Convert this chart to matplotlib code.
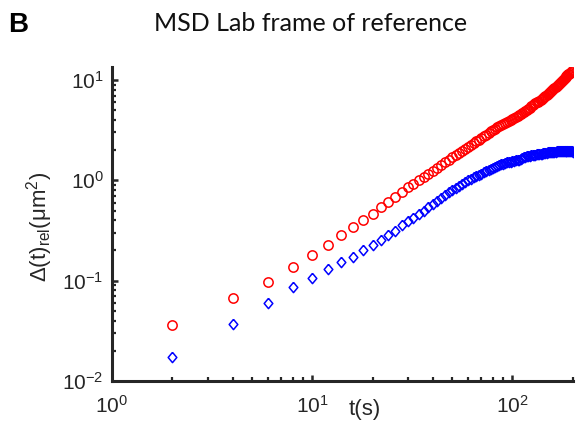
import numpy as np
import matplotlib
matplotlib.use('Agg')
import matplotlib.pyplot as plt

plt.rcParams['font.family'] = ['Liberation Sans', 'DejaVu Sans']
plt.rcParams['mathtext.fontset'] = 'custom'
plt.rcParams['mathtext.rm'] = 'Liberation Sans'
plt.rcParams['mathtext.it'] = 'Liberation Sans:italic'
plt.rcParams['mathtext.bf'] = 'Liberation Sans:bold'

# data
t = list(range(2, 201, 2))
msd_red = [0.036, 0.067, 0.097, 0.137, 0.180, 0.227, 0.283, 0.340, 0.405, 0.463,
           0.537, 0.610, 0.690, 0.770, 0.850, 0.930, 1.01, 1.09, 1.17, 1.25,
           1.33, 1.42, 1.51, 1.61, 1.70, 1.79, 1.88, 1.97, 2.06, 2.16,
           2.25, 2.35, 2.45, 2.55, 2.65, 2.75, 2.86, 2.97, 3.07, 3.17,
           3.27, 3.37, 3.46, 3.55, 3.64, 3.72, 3.80, 3.88, 3.98, 4.08,
           4.18, 4.28, 4.39, 4.50, 4.61, 4.72, 4.83, 4.95, 5.07, 5.19,
           5.32, 5.45, 5.58, 5.71, 5.84, 5.97, 6.10, 6.23, 6.37, 6.51,
           6.66, 6.81, 6.96, 7.12, 7.28, 7.44, 7.61, 7.78, 7.95, 8.12,
           8.30, 8.49, 8.68, 8.88, 9.08, 9.29, 9.50, 9.72, 9.94, 10.17,
           10.40, 10.64, 10.88, 11.12, 11.36, 11.60, 11.84, 12.08, 12.30, 12.50]
msd_blue = [0.0173, 0.0372, 0.0605, 0.0859, 0.107, 0.131, 0.152, 0.174, 0.201, 0.225,
            0.254, 0.283, 0.316, 0.355, 0.390, 0.425, 0.460, 0.500, 0.540, 0.580,
            0.625, 0.670, 0.720, 0.765, 0.800, 0.840, 0.880, 0.920, 0.960, 1.00,
            1.04, 1.08, 1.11, 1.14, 1.17, 1.20, 1.23, 1.26, 1.29, 1.32,
            1.35, 1.38, 1.41, 1.44, 1.47, 1.49, 1.51, 1.53, 1.54, 1.56,
            1.57, 1.58, 1.59, 1.61, 1.63, 1.66, 1.69, 1.72, 1.74, 1.75,
            1.76, 1.77, 1.78, 1.79, 1.80, 1.81, 1.82, 1.83, 1.84, 1.85,
            1.86, 1.87, 1.88, 1.89, 1.90, 1.91, 1.91, 1.92, 1.92, 1.93,
            1.93, 1.93, 1.94, 1.94, 1.94, 1.95, 1.95, 1.95, 1.95, 1.96,
            1.96, 1.96, 1.96, 1.96, 1.96, 1.96, 1.95, 1.95, 1.94, 1.93]

fig = plt.figure(figsize=(5.76, 4.21), dpi=100)
ax = fig.add_axes([0.1944, 0.095, 0.800, 0.746])

diamond = [(0, 1), (0.84, 0), (0, -1), (-0.84, 0), (0, 1)]
ax.plot(t, msd_red, linestyle='none', marker='o', markersize=6.7,
        markerfacecolor='none', markeredgecolor='#ff0000', markeredgewidth=1.1)
ax.plot(t, msd_blue, linestyle='none', marker=diamond, markersize=7.4,
        markerfacecolor='none', markeredgecolor='#0000ff', markeredgewidth=1.1)

ax.set_xscale('log')
ax.set_yscale('log')
ax.set_xlim(1, 200)
ax.set_ylim(0.01, 13.5)

dark = '#262626'
for side in ['top', 'right']:
    ax.spines[side].set_visible(False)
for side in ['left', 'bottom']:
    ax.spines[side].set_linewidth(2.2)
    ax.spines[side].set_color(dark)

ax.tick_params(which='major', direction='in', length=4.5, width=1.8,
               colors=dark, labelsize=15, labelcolor=dark)
ax.tick_params(which='minor', direction='in', length=2.8, width=1.6, colors=dark)
ax.tick_params(axis='x', which='major', pad=10)
ax.tick_params(axis='y', which='major', pad=6)

ax.set_xlabel('t(s)', fontsize=16, color=dark)
ax.xaxis.set_label_coords(0.549, -0.057)
ax.set_ylabel(r'$\Delta$(t)$_{\rm rel}$(μm$^2$)', fontsize=16, color=dark)
ax.yaxis.set_label_coords(-0.124, 0.49)

fig.text(0.54, 0.945, 'MSD Lab frame of reference', fontsize=18,
         family=['Lato', 'DejaVu Sans'], fontweight='normal', ha='center', va='center',
         color='#111111')
fig.text(0.014, 0.94, 'B', fontsize=20, fontweight='bold', ha='left', va='center')

fig.savefig('out.png', dpi=100)
